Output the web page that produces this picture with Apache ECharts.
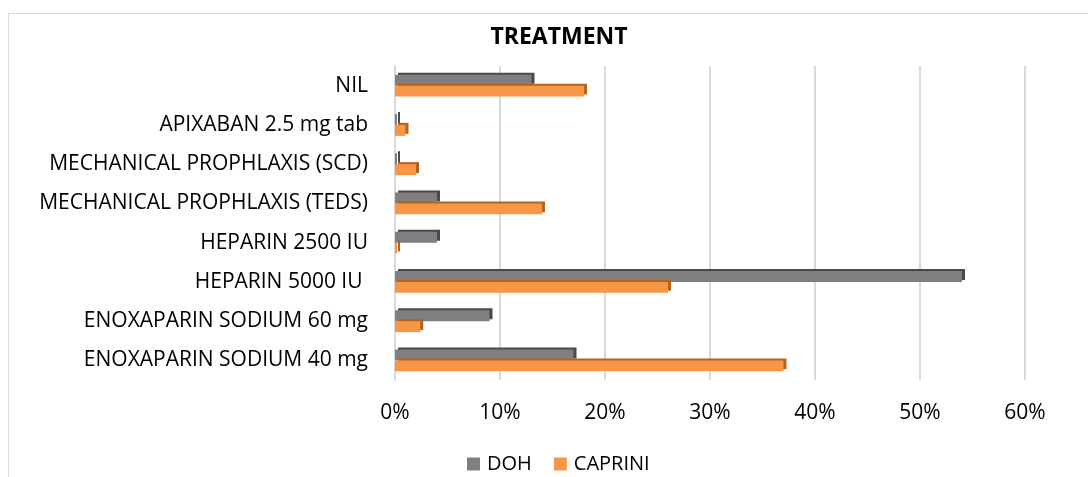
<!DOCTYPE html>
<html>
<head>
<meta charset="utf-8">
<script src="https://cdn.jsdelivr.net/npm/echarts@6/dist/echarts.min.js"></script>
<style>
  html, body { margin: 0; padding: 0; background: #fff; }
  #chart { width: 1088px; height: 477px; }
</style>
</head>
<body>
<div id="chart"></div>
<script>
// Treatment categories, listed top to bottom
const categories = [
  'NIL',
  'APIXABAN 2.5 mg tab',
  'MECHANICAL PROPHLAXIS (SCD)',
  'MECHANICAL PROPHLAXIS (TEDS)',
  'HEPARIN 2500 IU',
  'HEPARIN 5000 IU ',
  'ENOXAPARIN SODIUM 60 mg',
  'ENOXAPARIN SODIUM 40 mg'
];
// Share of patients per treatment (%)
const dohValues     = [13, 0, 0, 4, 4, 54, 9, 17];
const capriniValues = [18, 1, 2, 14, 0, 26, 2.4, 37];
const seriesNames = ['DOH', 'CAPRINI'];
const xTicks = [0, 10, 20, 30, 40, 50, 60];

const FONT = 'Open Sans';
const chart = echarts.init(document.getElementById('chart'));

chart.setOption({
  animation: false,
  backgroundColor: '#fff',
  textStyle: { fontFamily: FONT },
  title: {
    text: 'TREATMENT',
    left: 554, top: 21, textAlign: 'center',
    textStyle: { fontFamily: FONT, fontSize: 23, fontWeight: 'bold', color: '#000' }
  },
  graphic: [{
    type: 'rect', silent: true,
    shape: { x: 8.5, y: 13.5, width: 1100, height: 500 },
    style: { fill: null, stroke: '#d9d9d9', lineWidth: 1 }
  }],
  legend: {
    data: seriesNames,
    left: 462, top: 449,
    itemWidth: 13, itemHeight: 13, itemGap: 22,
    icon: 'rect',
    textStyle: { fontFamily: FONT, fontSize: 20, color: '#000', padding: [0, 0, 0, 2] }
  },
  grid: { left: 395, right: 63, top: 66, bottom: 97 },
  xAxis: {
    type: 'value', min: xTicks[0], max: xTicks[xTicks.length - 1], interval: 10,
    axisLine: { show: false }, axisTick: { show: false },
    splitLine: { lineStyle: { color: '#d9d9d9', width: 2 } },
    axisLabel: { formatter: '{value}%', fontFamily: FONT, fontSize: 21, color: '#000', margin: 23 }
  },
  yAxis: {
    type: 'category', data: categories, inverse: true,
    axisLine: { show: true, lineStyle: { color: '#d9d9d9', width: 2 } },
    axisTick: { show: false },
    axisLabel: { fontFamily: FONT, fontSize: 21, color: '#000', margin: 27, padding: [10, 0, 0, 0] }
  },
  series: [
    {
      name: seriesNames[0], type: 'bar', data: dohValues,
      barGap: '0%', barCategoryGap: '44%', barMinHeight: 2,
      itemStyle: { color: '#7f7f7f', shadowColor: '#4a4a4a', shadowOffsetX: 3, shadowOffsetY: -2, shadowBlur: 0 }
    },
    {
      name: seriesNames[1], type: 'bar', data: capriniValues,
      barGap: '0%', barCategoryGap: '44%', barMinHeight: 2,
      itemStyle: { color: '#f79646', shadowColor: '#b5621f', shadowOffsetX: 3, shadowOffsetY: -2, shadowBlur: 0 }
    }
  ]
});
</script>
</body>
</html>
